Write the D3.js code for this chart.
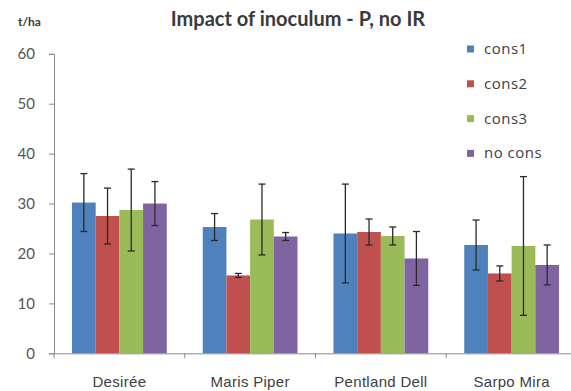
<!DOCTYPE html>
<html>
<head>
<meta charset="utf-8">
<script src="https://cdn.jsdelivr.net/npm/d3@7"></script>
<style>
  body { margin: 0; background: #fff; }
  svg { display: block; font-family: "Open Sans", Lato, sans-serif; }
</style>
</head>
<body>
<script>
const categories = ['Desirée', 'Maris Piper', 'Pentland Dell', 'Sarpo Mira'];
const seriesNames = ['cons1', 'cons2', 'cons3', 'no cons'];
const cons1 = [30.2, 25.3, 24.0, 21.7];
const cons2 = [27.5, 15.6, 24.3, 16.0];
const cons3 = [28.7, 26.8, 23.5, 21.5];
const noCons = [30.0, 23.4, 19.0, 17.7];
const err1 = [5.8, 2.7, 9.9, 5.0];
const err2 = [5.6, 0.4, 2.6, 1.5];
const err3 = [8.2, 7.1, 1.8, 13.9];
const err4 = [4.4, 0.8, 5.4, 4.0];
const yTicks = [0, 10, 20, 30, 40, 50, 60];
const colors = ['#4F81BD', '#C0504D', '#9BBB59', '#8064A2'];

const values = [cons1, cons2, cons3, noCons];
const errors = [err1, err2, err3, err4];

var width = 571, height = 391;
var svg = d3.select('body').append('svg')
    .attr('width', width)
    .attr('height', height);

var x0 = d3.scaleBand()
    .domain(categories)
    .range([54, 577])
    .padding(0);

var x1 = d3.scaleBand()
    .domain(seriesNames)
    .range([18, x0.bandwidth() - 18])
    .padding(0);

var y = d3.scaleLinear()
    .domain([0, 60])
    .range([353.3, 53.8]);

// y axis
var yAxis = d3.axisLeft(y).tickValues(yTicks).tickSize(5).tickPadding(14);
var yG = svg.append('g')
    .attr('transform', 'translate(54,0)')
    .call(yAxis);
yG.select('.domain').attr('stroke', '#8a8a8a');
yG.selectAll('.tick line').attr('stroke', '#8a8a8a');
yG.selectAll('.tick text')
    .attr('fill', '#555')
    .style('font-size', '15px')
    .attr('font-family', 'Lato, sans-serif');

// bars
var groups = svg.append('g').selectAll('g')
    .data(categories)
    .enter()
    .append('g')
    .attr('transform', d => `translate(${x0(d)},0)`);

groups.selectAll('rect')
    .data((d, i) => seriesNames.map((s, j) => ({ s, j, v: values[j][i], e: errors[j][i] })))
    .enter()
    .append('rect')
    .attr('x', d => x1(d.s))
    .attr('y', d => y(d.v))
    .attr('width', x1.bandwidth())
    .attr('height', d => y(0) - y(d.v))
    .attr('fill', d => colors[d.j]);

// error bars
var eb = groups.selectAll('g.err')
    .data((d, i) => seriesNames.map((s, j) => ({ s, j, v: values[j][i], e: errors[j][i] })))
    .enter()
    .append('g')
    .attr('class', 'err')
    .attr('stroke', '#2a2a2a')
    .attr('stroke-width', 1.3);

eb.append('line')
    .attr('x1', d => x1(d.s) + x1.bandwidth() / 2)
    .attr('x2', d => x1(d.s) + x1.bandwidth() / 2)
    .attr('y1', d => y(d.v + d.e))
    .attr('y2', d => y(d.v - d.e));
eb.append('line')
    .attr('x1', d => x1(d.s) + x1.bandwidth() / 2 - 3.5)
    .attr('x2', d => x1(d.s) + x1.bandwidth() / 2 + 3.5)
    .attr('y1', d => y(d.v + d.e))
    .attr('y2', d => y(d.v + d.e));
eb.append('line')
    .attr('x1', d => x1(d.s) + x1.bandwidth() / 2 - 3.5)
    .attr('x2', d => x1(d.s) + x1.bandwidth() / 2 + 3.5)
    .attr('y1', d => y(d.v - d.e))
    .attr('y2', d => y(d.v - d.e));

// x axis
var xAxis = d3.axisBottom(x0).tickSize(0).tickPadding(23);
var xG = svg.append('g')
    .attr('transform', `translate(0,${y(0)})`)
    .call(xAxis);
xG.select('.domain').attr('stroke', '#8a8a8a');
xG.selectAll('.tick text')
    .attr('fill', '#404040')
    .style('font-size', '15px')
    .style('letter-spacing', '0.3px');
// category boundary ticks
xG.selectAll('line.sep')
    .data(categories)
    .enter()
    .append('line')
    .attr('class', 'sep')
    .attr('x1', d => x0(d))
    .attr('x2', d => x0(d))
    .attr('y1', 0)
    .attr('y2', 5)
    .attr('stroke', '#8a8a8a');

// title and unit
svg.append('text')
    .attr('x', 298)
    .attr('y', 26)
    .attr('text-anchor', 'middle')
    .attr('fill', '#3a3a3a')
    .attr('font-family', 'Lato, sans-serif')
    .style('font-size', '20px')
    .style('font-weight', 'bold')
    .text('Impact of inoculum - P, no IR');

svg.append('text')
    .attr('x', 18)
    .attr('y', 26)
    .attr('fill', '#3a3a3a')
    .attr('font-family', 'Lato, sans-serif')
    .style('font-size', '12px')
    .style('font-weight', 'bold')
    .text('t/ha');

// legend
var legend = svg.append('g').selectAll('g')
    .data(seriesNames)
    .enter()
    .append('g')
    .attr('transform', (d, i) => `translate(467,${49 + i * 34.8})`);
legend.append('rect')
    .attr('x', 0)
    .attr('y', -3.5)
    .attr('width', 7)
    .attr('height', 7)
    .attr('fill', (d, i) => colors[i]);
legend.append('text')
    .attr('x', 17)
    .attr('y', 5)
    .attr('fill', '#404040')
    .style('font-size', '15px')
    .style('letter-spacing', '0.5px')
    .text(d => d);
</script>
</body>
</html>
